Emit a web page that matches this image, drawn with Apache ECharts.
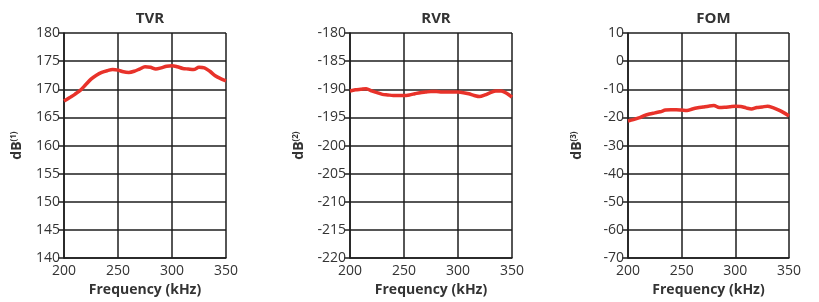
<!DOCTYPE html>
<html><head><meta charset="utf-8">
<script src="https://cdn.jsdelivr.net/npm/echarts@6/dist/echarts.min.js"></script>
<style>html,body{margin:0;padding:0;background:#fff}#c{width:819px;height:302px}</style>
</head><body><div id="c"></div>
<script>
const freq = [200,205,210,215,220,225,230,235,240,245,250,255,260,265,270,275,280,285,290,295,300,305,310,315,320,325,330,335,340,345,350];
const tvr = [167.9,168.5,169.1,169.8,170.8,171.8,172.5,173.0,173.3,173.5,173.4,173.1,173.0,173.2,173.6,174.0,173.9,173.6,173.8,174.1,174.2,174.0,173.7,173.6,173.5,173.9,173.8,173.2,172.4,171.9,171.5];
const rvr = [-190.3,-190.1,-190.0,-189.9,-190.3,-190.6,-190.9,-191.0,-191.1,-191.1,-191.1,-191.0,-190.8,-190.6,-190.5,-190.4,-190.4,-190.5,-190.5,-190.5,-190.5,-190.6,-190.8,-191.1,-191.3,-191.0,-190.6,-190.3,-190.3,-190.7,-191.4];
const fom = [-21.3,-20.8,-20.2,-19.4,-18.8,-18.4,-18.0,-17.4,-17.3,-17.3,-17.4,-17.5,-17.0,-16.6,-16.3,-16.0,-15.8,-16.5,-16.4,-16.2,-16.0,-16.1,-16.6,-17.0,-16.5,-16.3,-16.0,-16.5,-17.3,-18.3,-19.5];
const titles = ['TVR','RVR','FOM'];
const yNotes = ['(1)','(2)','(3)'];
const yRanges = [[140,180,5],[-220,-180,5],[-70,10,10]];
const xRange = [200,350,50];
const xName = 'Frequency (kHz)';

const font = '"Open Sans", "Noto Sans", sans-serif';
const lefts = [64, 350, 628];
const widths = [162, 162, 161];
const series = [tvr, rvr, fom];
const gridCol = '#1e1e1e';

const chart = echarts.init(document.getElementById('c'), null, {renderer:'canvas'});
const option = {
  animation:false,
  backgroundColor:'#fff',
  title: titles.map((t,i)=>({text:t, left: lefts[i]+widths[i]/2, top: 6, textAlign:'center',
    textStyle:{fontFamily:font, fontSize:15, fontWeight:'bold', color:'#333'}})),
  grid: lefts.map((l,i)=>({left:l, width:widths[i], top:33, height:228, containLabel:false})),
  xAxis: lefts.map((l,i)=>({gridIndex:i, type:'value', min:xRange[0], max:xRange[1], interval:xRange[2],
    name:xName, nameLocation:'middle', nameGap:23,
    nameTextStyle:{fontFamily:font, fontSize:14, fontWeight:'bold', color:'#333'},
    axisLine:{show:true, onZero:false, lineStyle:{color:gridCol, width:1.5}},
    axisTick:{show:false},
    axisLabel:{fontFamily:font, fontSize:14, color:'#333', margin:6},
    splitLine:{show:true, lineStyle:{color:gridCol, width:1.5}}})),
  yAxis: yRanges.map((r,i)=>({gridIndex:i, type:'value', min:r[0], max:r[1], interval:r[2],
    name:'{b|dB}{s|'+yNotes[i]+'}', nameLocation:'middle', nameGap: i===0?40:44,
    nameTextStyle:{rich:{b:{fontFamily:font, fontSize:14, fontWeight:'bold', color:'#333'},
                         s:{fontFamily:font, fontSize:8, fontWeight:'bold', color:'#333', verticalAlign:'top', padding:[0,0,6,0]}}},
    axisLine:{show:true, onZero:false, lineStyle:{color:gridCol, width:1.5}},
    axisTick:{show:true, length:6, inside:false, lineStyle:{color:gridCol, width:1.5}},
    axisLabel:{fontFamily:font, fontSize:14, color:'#333', margin:4},
    splitLine:{show:true, lineStyle:{color:gridCol, width:1.5}}})),
  series: series.map((s,i)=>({type:'line', xAxisIndex:i, yAxisIndex:i,
    data: freq.map((f,k)=>[f,s[k]]), showSymbol:false, smooth:0.3,
    lineStyle:{color:'#e8322a', width:3.5}}))
};
chart.setOption(option);
</script></body></html>
